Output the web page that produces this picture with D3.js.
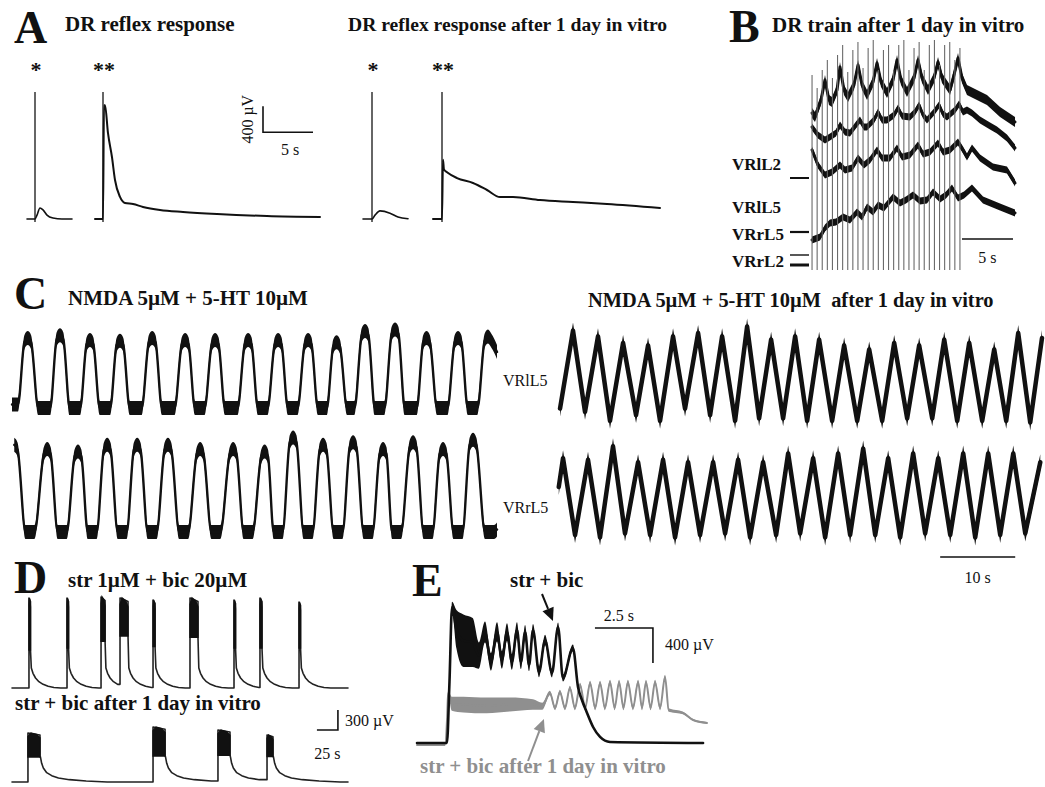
<!DOCTYPE html>
<html>
<head>
<meta charset="utf-8">
<script src="https://cdn.jsdelivr.net/npm/d3@7"></script>
<style>
  body { margin: 0; background: #fff; }
  svg text { font-family: "Liberation Serif", "Times New Roman", serif; fill: #111; }
  .letter { font-size: 46px; font-weight: bold; }
  .title { font-size: 21px; font-weight: bold; white-space: pre; }
  .lbl { font-size: 16px; }
  .blbl { font-size: 17px; font-weight: bold; }
  .star { font-size: 22px; font-weight: bold; }
  .bar { stroke: #111; stroke-width: 1.6; fill: none; }
</style>
</head>
<body>
<svg id="fig" width="1045" height="787"></svg>
<script>
// ---------- Panel A : DR reflex (time s, amplitude µV) ----------
const aSpikesL = [0.8, 7.6];
const aSpikesR = [0.9, 7.9];
const aSpikeTop = 1954;
const aSpikeBottom = -46;
const aLeft1 = [[0, 0], [0.8, 0], [1.0, 60], [1.3, 170], [1.6, 140], [2.0, 60], [2.6, 15], [3.5, 0], [4.5, 0]];
const aLeft2 = [[6.8, 0], [7.6, 0], [7.7, 1750], [7.8, 1750], [8.1, 1320], [8.5, 950], [8.8, 600], [9.3, 340],
  [9.8, 246], [10.6, 230], [11.6, 185], [13.3, 138], [15.6, 108], [19.0, 77], [24.0, 46], [29.3, 31]];
const aRight1 = [[0, 0], [0.9, 0], [1.2, 60], [1.7, 125], [2.7, 90], [3.5, 30], [4.5, 5]];
const aRight2 = [[7.0, 0], [7.9, 0], [8.0, 910], [8.1, 760], [8.4, 720], [9.4, 630], [11.0, 554], [12.4, 446],
  [13.7, 338], [15.0, 338], [17.7, 292], [21.0, 262], [24.4, 231], [29.7, 169]];

// ---------- Panel B : DR train (time s, amplitude a.u.) ----------
const bStim = [0.2, 0.7, 1.2, 1.7, 2.2, 2.7, 3.2, 3.7, 4.2, 4.7, 5.2, 5.7, 6.2, 6.7, 7.2, 7.7, 8.2, 8.7,
  9.2, 9.7, 10.2, 10.7, 11.2, 11.7, 12.2, 12.7, 13.2, 13.7, 14.2, 14.7];
const bStimTop = [195, 182, 200, 210, 192, 215, 225, 198, 220, 228, 202, 222, 230, 200, 220, 225, 200, 225,
  230, 200, 222, 228, 200, 225, 230, 205, 225, 228, 210, 222];
const bTrace1 = [[0.2, 157], [0.49, 153], [1.08, 170], [1.47, 190], [1.86, 170], [2.16, 168], [2.65, 180], [2.94, 203],
  [3.33, 180], [3.73, 173], [4.31, 185], [4.71, 205], [5.1, 185], [5.59, 175], [6.18, 188], [6.57, 207], [6.96, 188],
  [7.55, 177], [8.14, 190], [8.53, 210], [8.92, 190], [9.51, 178], [10.2, 192], [10.59, 210], [10.98, 192], [11.57, 180],
  [12.16, 192], [12.55, 208], [12.94, 192], [13.73, 180], [14.12, 195], [14.51, 212], [14.9, 192], [15.39, 180],
  [16.37, 175], [17.35, 170], [18.63, 158], [20.1, 148]];
const bTrace2 = [[0.2, 143], [0.78, 135], [1.47, 130], [1.96, 133], [2.55, 137], [2.94, 145], [3.43, 138], [3.92, 137],
  [4.51, 145], [4.9, 150], [5.29, 143], [5.59, 143], [6.27, 150], [6.67, 158], [7.06, 150], [7.55, 150], [8.24, 155],
  [8.63, 162], [9.02, 154], [9.8, 153], [10.29, 158], [10.69, 165], [11.08, 155], [11.47, 150], [12.16, 158], [12.65, 165],
  [13.04, 156], [13.43, 153], [14.22, 160], [14.61, 166], [15.0, 158], [15.39, 160], [15.88, 157], [16.67, 150],
  [17.65, 144], [18.33, 140], [19.31, 132], [20.1, 122]];
const bTrace3 = [[0.2, 120], [0.78, 105], [1.47, 95], [2.16, 98], [2.94, 105], [3.43, 100], [4.12, 102], [4.71, 112],
  [5.29, 105], [5.88, 110], [6.57, 120], [7.06, 112], [7.84, 112], [8.53, 122], [9.02, 113], [9.8, 115], [10.59, 125],
  [11.08, 116], [11.76, 118], [12.55, 127], [13.04, 118], [13.73, 120], [14.51, 128], [15.0, 120], [15.39, 113],
  [15.88, 122], [16.67, 112], [17.94, 103], [19.31, 100], [20.1, 87]];
const bTrace4 = [[0.2, 30], [0.98, 33], [1.47, 42], [1.96, 47], [2.55, 48], [3.24, 53], [3.92, 50], [4.61, 58], [5.1, 53],
  [5.59, 63], [6.18, 58], [6.67, 65], [7.25, 62], [8.14, 73], [8.82, 67], [9.41, 70], [10.1, 75], [10.78, 69], [11.47, 70],
  [12.06, 78], [12.75, 71], [13.33, 75], [13.92, 82], [14.51, 72], [15.1, 75], [15.88, 82], [16.96, 70], [18.63, 63], [20.1, 57]];
const bLabels = ['VRlL2', 'VRlL5', 'VRrL5', 'VRrL2'];

// ---------- Panel C : NMDA + 5-HT (time s, normalised amplitude) ----------
const cLTopPeakT = [2.1, 6.4, 10.4, 14.4, 18.7, 23.1, 27.1, 31.5, 35.5, 39.5, 43.3, 47.1, 51.1, 55.3, 59.5, 63.5];
const cLTopPeakV = [1.0, 1.04, 0.97, 0.96, 1.0, 0.97, 0.97, 0.97, 0.97, 0.97, 0.94, 1.1, 1.12, 1.0, 1.0, 1.02];
const cLTopTrS = [0, 3.5, 7.7, 11.7, 15.7, 20.0, 24.4, 28.4, 32.8, 36.8, 40.8, 44.7, 48.4, 52.4, 56.7, 60.8];
const cLTopTrE = [0.8, 5.1, 9.1, 13.1, 17.3, 21.7, 25.7, 30.1, 34.1, 38.1, 42.0, 45.7, 49.7, 54.0, 58.1, 62.1];
const cLTopTrV = [0.05, 0, 0, 0, 0, 0, 0, 0, 0, 0, 0, 0, 0, 0, 0, 0];
const cLTopEnd = [64.7, 0.8];

const cLBotPeakT = [0.3, 4.7, 8.8, 12.7, 16.7, 20.8, 25.1, 29.5, 33.7, 37.5, 41.5, 45.5, 49.5, 53.5, 57.5, 61.5];
const cLBotPeakV = [1.05, 1.0, 0.97, 1.05, 1.05, 1.05, 1.0, 1.0, 0.97, 1.14, 1.05, 1.08, 1.0, 1.08, 1.0, 1.11];
const cLBotTrS = [1.8, 6.1, 10.1, 14.1, 18.1, 22.3, 26.6, 30.9, 34.9, 38.9, 42.9, 46.9, 50.7, 54.9, 58.9, 63.1];
const cLBotTrE = [3.0, 7.3, 11.3, 15.3, 19.3, 23.5, 27.8, 32.1, 36.1, 40.1, 44.1, 48.1, 51.9, 56.1, 60.1, 64.3];
const cLBotTrV = [0, 0, 0, 0, 0, 0, 0, 0, 0, 0, 0, 0, 0, 0, 0, 0];
const cLBotEnd = [64.7, 0.03];

const cRTopPeakT = [2.0, 5.33, 8.67, 12.0, 15.33, 18.67, 21.87, 25.2, 28.4, 31.6, 34.8, 38.13, 41.47, 44.8, 48.13,
  51.47, 54.8, 58.13, 61.33];
const cRTopPeakV = [1.09, 1.02, 0.94, 0.91, 1.02, 1.06, 1.02, 1.14, 0.98, 1.02, 0.98, 0.91, 0.86, 0.94, 0.91,
  0.98, 0.94, 0.86, 1.06];
const cRTopTrT = [0.27, 3.6, 6.93, 10.4, 13.6, 16.93, 20.27, 23.6, 26.8, 30.0, 33.2, 36.53, 39.87, 43.2, 46.53,
  49.87, 53.2, 56.53, 59.73, 62.93];
const cRTopTrV = [0.14, 0.1, -0.01, 0.06, -0.01, 0.14, 0.06, -0.01, 0.02, 0.02, -0.01, -0.01, -0.01, -0.01, 0.02,
  0.02, -0.01, -0.01, -0.01, -0.03];
const cRTopEnd = [64.5, 1.0];

const cRBotPeakT = [0.67, 4.0, 7.33, 10.67, 14.0, 17.33, 20.67, 24.0, 27.33, 30.67, 34.0, 37.33, 40.67, 44.0,
  47.33, 50.67, 54.0, 57.33, 60.67, 64.27];
const cRBotPeakV = [0.96, 0.94, 1.11, 0.91, 0.94, 0.91, 0.91, 0.94, 0.91, 1.02, 0.96, 1.02, 1.08, 0.96, 1.02,
  0.96, 1.02, 1.02, 1.02, 0.91];
const cRBotTrT = [2.27, 5.6, 8.93, 12.27, 15.6, 18.93, 22.27, 25.6, 29.07, 32.27, 35.6, 38.93, 42.27, 45.6, 48.93,
  52.27, 55.6, 58.93, 62.27];
const cRBotTrV = [0, -0.03, 0.02, 0, -0.03, 0, 0.02, -0.03, 0, 0.02, -0.03, 0, 0, -0.03, 0.02, 0, -0.03, 0, 0.02];
const cRBotStart = [0.1, 0.6];

// ---------- Panel D : str + bic bursts (time s, µV) ----------
const dTopOn = [20.2, 65.5, 106.0, 128.6, 167.9, 211.9, 264.3, 295.2, 341.7];
const dTopW = [1.8, 1.8, 4.8, 9.5, 2.4, 9.5, 1.8, 2.4, 1.8];
const dTopPeak = [1350, 1350, 1365, 1350, 1320, 1350, 1320, 1350, 1290];
const dTopLow = [570, 600, 700, 780, 620, 760, 600, 600, 600];
const dTopDecay = [[1, 300], [3, 220], [6, 150], [10, 95], [15, 55], [21, 25], [28, 8], [36, 0]];
const dBotOn = [19.0, 167.9, 245.2, 303.6];
const dBotW = [14.3, 14.3, 14.3, 7.1];
const dBotPeak = [735, 825, 780, 705];
const dBotLow = [375, 390, 400, 380];
const dBotDecay = [[0.5, 380], [2, 280], [4, 210], [8, 140], [14, 95], [22, 60], [35, 35], [55, 15], [80, 0]];

// ---------- Panel E : superimposed episodes (time s, µV, noise µV) ----------
const eBlack = [[0, 0, 0], [1.29, 0, 0], [1.4, 700, 20], [1.51, 1554, 60], [1.7, 1300, 220], [2.0, 1170, 300],
  [2.4, 1150, 280], [2.67, 1000, 150], [2.93, 1269, 120], [3.19, 926, 100], [3.45, 1269, 110], [3.66, 949, 100],
  [3.88, 1269, 100], [4.09, 926, 90], [4.31, 1291, 90], [4.48, 926, 80], [4.66, 1269, 80], [4.83, 891, 70],
  [5.0, 1291, 70], [5.26, 811, 60], [5.52, 1177, 60], [5.82, 800, 50], [6.08, 1326, 50], [6.29, 743, 40],
  [6.72, 1086, 40], [6.94, 640, 30], [7.11, 491, 20], [7.33, 343, 10], [7.59, 183, 5], [7.89, 69, 0],
  [8.32, 11, 0], [12.33, 0, 0]];
const eGray = [[0, -23, 0], [1.2, -23, 0], [1.3, 300, 0], [1.34, 571, 30], [1.5, 450, 80], [2.0, 440, 90],
  [3.0, 430, 90], [4.0, 440, 80], [5.0, 440, 60], [5.4, 420, 40], [5.73, 571, 25], [5.95, 400, 25], [6.16, 583, 25],
  [6.38, 400, 25], [6.59, 629, 25], [6.81, 400, 25], [7.03, 663, 25], [7.25, 400, 25], [7.46, 686, 25],
  [7.68, 400, 25], [7.89, 686, 25], [8.1, 400, 25], [8.32, 697, 25], [8.52, 400, 25], [8.71, 697, 25],
  [8.9, 400, 25], [9.09, 697, 25], [9.31, 400, 25], [9.53, 697, 25], [9.7, 400, 25], [9.87, 697, 25],
  [10.07, 400, 25], [10.26, 697, 25], [10.48, 400, 25], [10.69, 754, 25], [10.85, 377, 20], [11.47, 343, 15],
  [11.9, 263, 10], [12.5, 229, 10]];

// ---------- helpers ----------
const svg = d3.select('#fig');
const INK = '#111';
const GREY = '#8f8f8f';

function txt(x, y, s, cls, anchor) {
  return svg.append('text').attr('x', x).attr('y', y).attr('class', cls)
    .attr('text-anchor', anchor || 'start').text(s);
}

function trace(pts, x, y, curve, color, w) {
  svg.append('path')
    .attr('d', d3.line().curve(curve).x((d) => x(d[0])).y((d) => y(d[1]))(pts))
    .attr('fill', 'none').attr('stroke', color).attr('stroke-width', w)
    .attr('stroke-linejoin', 'round').attr('stroke-linecap', 'round');
}

// noisy recording: vertical scatter band round the trace
function band(pts, x, y, half, curve, color, w) {
  svg.append('path')
    .attr('d', d3.area().curve(curve).x((d) => x(d[0]))
      .y0((d) => y(d[1]) - half).y1((d) => y(d[1]) + half)(pts))
    .attr('fill', color);
  trace(pts, x, y, curve, color, w);
}

// peaks get a rounded noisy cap (shoulders sh seconds wide), troughs a plateau
function wavePts(pT, pV, trS, trE, trV, extra, sh) {
  const pts = [];
  pT.forEach((t, i) => {
    pts.push([t, pV[i]]);
    if (sh) { pts.push([t - sh, pV[i] - 0.06]); pts.push([t + sh, pV[i] - 0.06]); }
  });
  trS.forEach((t, i) => {
    pts.push([t, trV[i]]);
    if (trE) pts.push([trE[i], trV[i]]);
  });
  extra.forEach((p) => pts.push(p));
  return pts.filter((p) => p[0] >= 0).sort((a, b) => a[0] - b[0]);
}

function burstPts(on, w, peak, low, decay, tEnd) {
  const pts = [[0, 0]];
  const blocks = [];
  on.forEach((t0, i) => {
    const t1 = t0 + w[i];
    const next = i + 1 < on.length ? on[i + 1] : tEnd;
    pts.push([t0, pts[pts.length - 1][1]]);
    pts.push([t0, peak[i]]);
    pts.push([t1, peak[i] * 0.96]);
    pts.push([t1, low[i]]);
    decay.forEach(([dt, v]) => { if (t1 + dt < next) pts.push([t1 + dt, v]); });
    blocks.push([[t0, low[i]], [t0, peak[i] * 0.93], [t0 + w[i] * 0.25, peak[i]],
      [t0 + w[i] * 0.7, peak[i] * 0.97], [t1, peak[i] * 0.9], [t1, low[i]]]);
  });
  pts.push([tEnd, 0]);
  return { pts, blocks };
}

function arrow(x1, y1, x2, y2, color) {
  const a = Math.atan2(y2 - y1, x2 - x1);
  const L = 13, W = 6;
  const bx = x2 - L * Math.cos(a), by = y2 - L * Math.sin(a);
  svg.append('line').attr('x1', x1).attr('y1', y1).attr('x2', bx).attr('y2', by)
    .attr('stroke', color).attr('stroke-width', 2);
  svg.append('path')
    .attr('d', `M${x2},${y2}L${bx + W * Math.sin(a)},${by - W * Math.cos(a)}L${bx - W * Math.sin(a)},${by + W * Math.cos(a)}Z`)
    .attr('fill', color);
}

// ---------- A ----------
const axL = d3.scaleLinear().domain([0, 30]).range([27, 327]);
const axR = d3.scaleLinear().domain([0, 30]).range([363, 663]);
const ay = d3.scaleLinear().domain([0, 2000]).range([219, 89]);

txt(14, 43, 'A', 'letter');
txt(65, 31, 'DR reflex response', 'title');
txt(348, 31, 'DR reflex response after 1 day in vitro', 'title').style('font-size', '19.6px');

[[aSpikesL, axL], [aSpikesR, axR]].forEach(([sp, x]) => {
  sp.forEach((t) => {
    svg.append('line').attr('x1', x(t)).attr('x2', x(t))
      .attr('y1', ay(aSpikeBottom)).attr('y2', ay(aSpikeTop))
      .attr('stroke', '#333').attr('stroke-width', 1.5);
  });
  txt(x(sp[0]) + 1, 77, '*', 'star', 'middle');
  txt(x(sp[1]) + 1, 77, '**', 'star', 'middle');
});
trace(aLeft1, axL, ay, d3.curveMonotoneX, INK, 1.6);
trace(aLeft2, axL, ay, d3.curveMonotoneX, INK, 2);
trace(aRight1, axR, ay, d3.curveMonotoneX, INK, 1.6);
trace(aRight2, axR, ay, d3.curveMonotoneX, INK, 2);

// scale bar 5 s / 400 µV
svg.append('path').attr('class', 'bar')
  .attr('d', `M${axL(23.6)},${ay(1735)}V${ay(1335)}H${axL(28.6)}`);
txt(axL(26.3), 155, '5 s', 'lbl', 'middle');
svg.append('text').attr('class', 'lbl').attr('text-anchor', 'middle')
  .attr('transform', `translate(253,${ay(1535)}) rotate(-90)`).text('400 µV');

// ---------- B ----------
const bx = d3.scaleLinear().domain([0, 20]).range([810, 1014]);
const by = d3.scaleLinear().domain([0, 230]).range([270, 40]);

txt(729, 42, 'B', 'letter');
txt(772, 32, 'DR train after 1 day in vitro', 'title');

[bTrace1, bTrace2, bTrace3, bTrace4].forEach((tr, i) => band(tr, bx, by, i === 0 ? 5 : 3.5, d3.curveLinear, INK, 3));
bStim.forEach((t, i) => {
  svg.append('line').attr('x1', bx(t)).attr('x2', bx(t))
    .attr('y1', by(0)).attr('y2', by(bStimTop[i]))
    .attr('stroke', '#6a6a6a').attr('stroke-width', 1.1);
});
[170, 213, 240, 267].forEach((yy, i) => txt(732, yy, bLabels[i], 'blbl'));
[[178, 2], [232, 2.2], [255, 1.4], [265, 3]].forEach(([yy, w]) => {
  svg.append('line').attr('x1', 790).attr('x2', 809).attr('y1', yy).attr('y2', yy)
    .attr('stroke', INK).attr('stroke-width', w);
});
svg.append('path').attr('class', 'bar').attr('d', `M${bx(14.9)},${by(31)}H${bx(19.9)}`);
txt(bx(17.4), 263, '5 s', 'lbl', 'middle');

// ---------- C ----------
const cxL = d3.scaleLinear().domain([0, 64.7]).range([12, 497]);
const cyLT = d3.scaleLinear().domain([0, 1]).range([408, 338]);
const cyLB = d3.scaleLinear().domain([0, 1]).range([532, 449]);
const cxR = d3.scaleLinear().domain([0, 64.5]).range([558, 1042]);
const cyRT = d3.scaleLinear().domain([0, 1]).range([420, 338]);
const cyRB = d3.scaleLinear().domain([0, 1]).range([535, 455]);

txt(14, 309, 'C', 'letter');
txt(68, 305, 'NMDA 5µM + 5-HT 10µM', 'title');
txt(588, 307, 'NMDA 5µM + 5-HT 10µM\u00a0\u00a0after 1 day in vitro', 'title').style('font-size', '20.4px');

band(wavePts(cLTopPeakT, cLTopPeakV, cLTopTrS, cLTopTrE, cLTopTrV, [cLTopEnd], 0.45), cxL, cyLT, 7, d3.curveMonotoneX, INK, 2.4);
band(wavePts(cLBotPeakT, cLBotPeakV, cLBotTrS, cLBotTrE, cLBotTrV, [cLBotEnd], 0.45), cxL, cyLB, 7, d3.curveMonotoneX, INK, 2.4);
band(wavePts(cRTopPeakT, cRTopPeakV, cRTopTrT, null, cRTopTrV, [cRTopEnd], 0), cxR, cyRT, 8, d3.curveLinear, INK, 4.5);
band(wavePts(cRBotPeakT, cRBotPeakV, cRBotTrT, null, cRBotTrV, [cRBotStart], 0), cxR, cyRB, 8, d3.curveLinear, INK, 4.5);

txt(503, 386, 'VRlL5', 'lbl');
txt(503, 513, 'VRrL5', 'lbl');
svg.append('path').attr('class', 'bar').attr('d', `M${cxR(50.93)},557H${cxR(60.93)}`);
txt(cxR(55.93), 583, '10 s', 'lbl', 'middle');

// ---------- D ----------
const dx = d3.scaleLinear().domain([0, 400]).range([12, 348]);
const dyT = d3.scaleLinear().domain([0, 1350]).range([688, 598]);
const dyB = d3.scaleLinear().domain([0, 735]).range([782, 733]);

txt(14, 593, 'D', 'letter');
txt(68, 587, 'str 1µM + bic 20µM', 'title');
txt(15, 710, 'str + bic after 1 day in vitro', 'title');

[[burstPts(dTopOn, dTopW, dTopPeak, dTopLow, dTopDecay, 400), dyT],
 [burstPts(dBotOn, dBotW, dBotPeak, dBotLow, dBotDecay, 400), dyB]].forEach(([b, y]) => {
  trace(b.pts, dx, y, d3.curveLinear, '#222', 1.6);
  b.blocks.forEach((blk) => {
    svg.append('path')
      .attr('d', d3.line().x((d) => dx(d[0])).y((d) => y(d[1]))(blk) + 'Z')
      .attr('fill', INK).attr('stroke', INK).attr('stroke-width', 1.4);
  });
});
svg.append('path').attr('class', 'bar')
  .attr('d', `M${dx(388)},${dyB(1080)}V${dyB(780)}H${dx(363)}`);
txt(345, 726, '300 µV', 'lbl');
txt(dx(375.5), 759, '25 s', 'lbl', 'middle');

// ---------- E ----------
const ex = d3.scaleLinear().domain([0, 12.5]).range([417, 707]);
const ey = d3.scaleLinear().domain([0, 1600]).range([743, 603]);

txt(412, 596, 'E', 'letter');
txt(510, 587, 'str + bic', 'title');

[[eGray, GREY, 2], [eBlack, INK, 2.6]].forEach(([pts, col, w]) => {
  svg.append('path')
    .attr('d', d3.area().curve(d3.curveMonotoneX).x((d) => ex(d[0]))
      .y0((d) => ey(d[1] - d[2])).y1((d) => ey(d[1] + d[2]))(pts))
    .attr('fill', col);
  trace(pts, ex, ey, d3.curveMonotoneX, col, w);
});

arrow(542, 594, ex(5.86), ey(1394), INK);
arrow(528, 761, ex(5.47), ey(274), GREY);

svg.append('path').attr('class', 'bar')
  .attr('d', `M${ex(7.67)},${ey(1314)}H${ex(10.17)}V${ey(914)}`);
txt(ex(8.7), 621, '2.5 s', 'lbl', 'middle');
txt(665, 650, '400 µV', 'lbl');
txt(420, 773, 'str + bic after 1 day in vitro', 'title').style('fill', GREY);
</script>
</body>
</html>
